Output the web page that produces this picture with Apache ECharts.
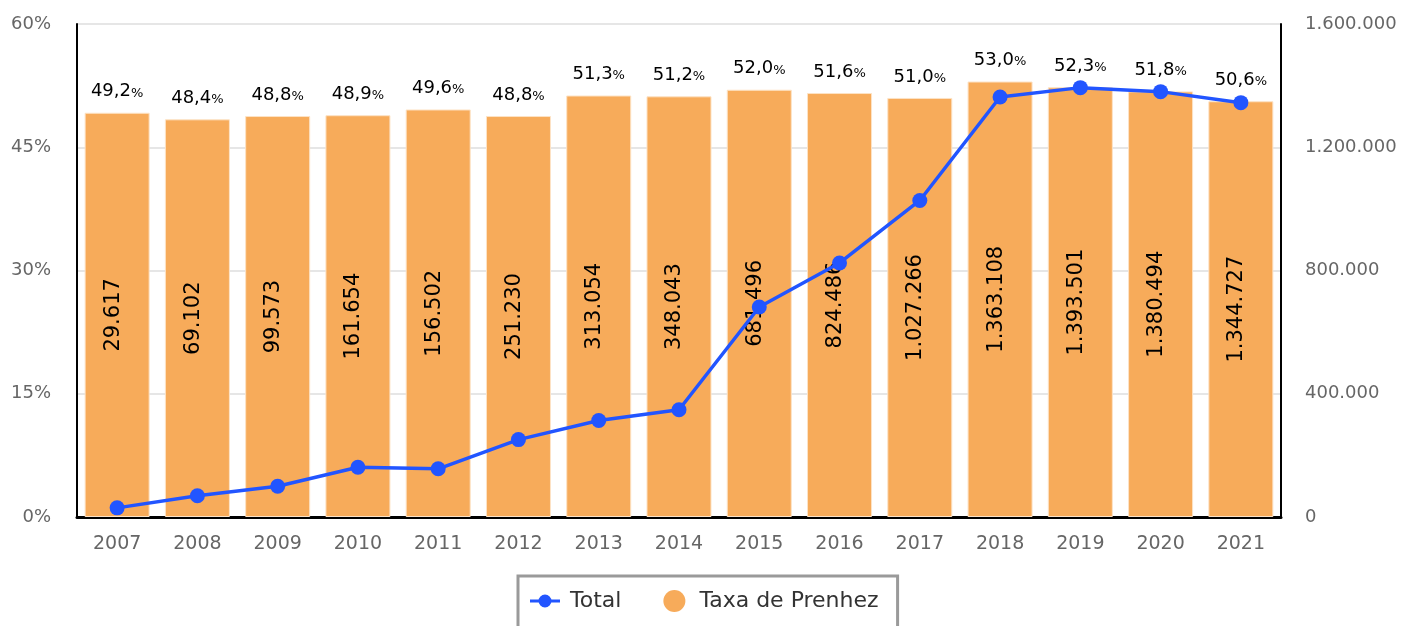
<!DOCTYPE html>
<html><head><meta charset="utf-8">
<script src="https://cdn.jsdelivr.net/npm/echarts@6/dist/echarts.min.js"></script>
<style>html,body{margin:0;padding:0;background:#fff}#c{width:1410px;height:626px}</style>
</head><body><div id="c"></div>
<script>
const years = ['2007','2008','2009','2010','2011','2012','2013','2014','2015','2016','2017','2018','2019','2020','2021'];
const taxa = [49.2,48.4,48.8,48.9,49.6,48.8,51.3,51.2,52.0,51.6,51.0,53.0,52.3,51.8,50.6];
const total = [29617,69102,99573,161654,156502,251230,313054,348043,681496,824486,1027266,1363108,1393501,1380494,1344727];
const leftTicks = {min:0,max:60,interval:15};
const rightTicks = {min:0,max:1600000,interval:400000};

const FONT = 'DejaVu Sans';
const fmtThousands = v => String(v).replace(/\B(?=(\d{3})+(?!\d))/g,'.');
const lineIcon = 'path://M0,5 L30,5 L30,8 L0,8 Z M21.5,6.5 A6.5,6.5 0 1 1 8.5,6.5 A6.5,6.5 0 1 1 21.5,6.5 Z';
const chart = echarts.init(document.getElementById('c'));
chart.setOption({
  animation:false,
  textStyle:{fontFamily:FONT},
  grid:{left:77,right:129,top:24,bottom:109,containLabel:false},
  legend:{
    top:576, left:518,
    data:[{name:'Total',icon:lineIcon,itemStyle:{borderWidth:0}},
          {name:'Taxa de Prenhez',icon:'circle',itemStyle:{borderWidth:0,color:'#F7AB5A'}}],
    itemWidth:30, itemHeight:22, itemGap:42,
    padding:[14,19,30,12],
    borderColor:'#9a9a9a', borderWidth:3, borderRadius:0,
    textStyle:{fontSize:22,color:'#333',fontFamily:FONT,padding:[0,0,0,5]}
  },
  xAxis:{
    type:'category', data:years,
    axisLine:{show:true,lineStyle:{color:'#000',width:3}},
    axisTick:{show:false},
    axisLabel:{fontSize:19,color:'#666',margin:18,fontFamily:FONT}
  },
  yAxis:[
    {type:'value',min:leftTicks.min,max:leftTicks.max,interval:leftTicks.interval,
     axisLine:{show:true,lineStyle:{color:'#000',width:2}},
     axisTick:{show:false},
     splitLine:{lineStyle:{color:'#e6e6e6',width:2}},
     axisLabel:{formatter:'{value}%',fontSize:18,color:'#666',margin:26,fontFamily:FONT}},
    {type:'value',min:rightTicks.min,max:rightTicks.max,interval:rightTicks.interval,
     position:'right',
     axisLine:{show:true,lineStyle:{color:'#000',width:2}},
     axisTick:{show:false},
     splitLine:{show:false},
     axisLabel:{formatter:v=>fmtThousands(v),fontSize:18,color:'#666',margin:24,fontFamily:FONT}}
  ],
  series:[
    {name:'Taxa de Prenhez',type:'bar',yAxisIndex:0,data:taxa,barWidth:'81%',
     itemStyle:{color:'#F7AB5A',borderColor:'#fde3c6',borderWidth:1},
     label:{show:true,position:'top',distance:12,
       formatter:p=>'{n|'+String(p.value.toFixed(1)).replace('.',',')+'}{p|%}',
       rich:{n:{fontSize:18,color:'#000',fontFamily:FONT},p:{fontSize:13,color:'#000',fontFamily:FONT,padding:[3,0,0,0]}}},
     z:2},
    {name:'totalLabels',type:'bar',yAxisIndex:0,data:taxa,barWidth:'81%',barGap:'-100%',
     itemStyle:{color:'rgba(0,0,0,0)'},
     label:{show:true,position:'inside',rotate:90,offset:[0,-4],
       formatter:p=>fmtThousands(total[p.dataIndex]),
       fontSize:21,color:'#000',fontFamily:FONT},
     tooltip:{show:false},z:3},
    {name:'Total',type:'line',yAxisIndex:1,data:total,
     symbol:'circle',symbolSize:15,
     lineStyle:{color:'#2255FF',width:3.5},
     itemStyle:{color:'#2255FF'},z:5}
  ]
});
</script></body></html>
